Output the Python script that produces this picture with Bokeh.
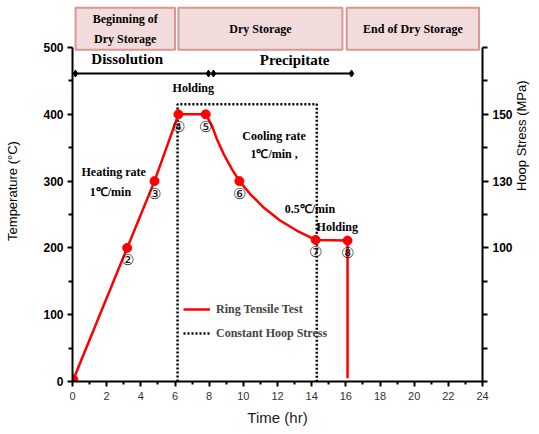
import math
from bokeh.plotting import figure
from bokeh.models import (LinearAxis, FixedTicker, Range1d, Legend, LegendItem,
                          LabelSet, ColumnDataSource)
from bokeh.core.properties import value
from bokeh.embed import file_html
from bokeh.resources import INLINE

# Ring tensile test temperature profile (time in hr, temperature in degC)
ring_time = [0.05, 3.2, 4.8, 6.2, 7.8, 8.16, 8.45, 8.84, 9.33, 9.77, 10.39, 11.17, 12.15, 13.12, 14.23, 16.1, 16.1]
ring_temp = [3, 200, 300, 400, 400, 383, 363, 341, 318, 300, 281, 261, 241, 226, 212, 211, 5]

# Numbered test points
point_time = [0.05, 3.2, 4.8, 6.2, 7.8, 9.77, 14.23, 16.1]
point_temp = [3, 200, 300, 400, 400, 300, 212, 211]
point_labels = ["①", "②", "③", "④", "⑤", "⑥", "⑦", "⑧"]

# Constant hoop stress profile
hoop_time = [6.15, 6.15, 14.3, 14.3]
hoop_temp = [0, 415, 415, 0]

# Right axis: temperature positions -> hoop stress labels (MPa)
hoop_tick_temp = [200, 300, 400]
hoop_tick_labels = ["100", "130", "150"]

# Storage phases (boxes above the plot)
phase_names = ["Beginning of\nDry Storage", "Dry Storage", "End of Dry Storage"]
phase_start = [0.18, 6.2, 16.05]
phase_end = [6.0, 15.8, 23.8]

# Stage arrows
stage_names = ["Dissolution", "Precipitate"]
stage_start = [0.17, 8.25]
stage_end = [7.96, 16.33]
stage_label_x = [3.2, 13.0]

# Annotations
annot_text = ["Holding", "Heating rate", "1℃/min", "Cooling rate", "1℃/min ,", "0.5℃/min", "Holding"]
annot_x = [7.07, 2.41, 2.22, 11.8, 11.8, 13.9, 15.5]
annot_y = [440, 313, 284, 368, 340, 259, 231]

SERIF = value("Liberation Serif")

p = figure(width=539, height=428, x_range=Range1d(0, 24), y_range=Range1d(0, 570.4),
           output_backend="svg", toolbar_location=None,
           min_border_left=72, min_border_right=56, min_border_top=0, min_border_bottom=47)
p.outline_line_color = None
p.grid.visible = False
p.background_fill_color = "white"

# Phase boxes
p.quad(left=phase_start, right=phase_end, bottom=496.5, top=559.5,
       fill_color="#f2dcdb", line_color="#d99694", line_width=2)
p.text(x=[(a + b) / 2 for a, b in zip(phase_start, phase_end)], y=[528] * 3, text=phase_names,
       text_align="center", text_baseline="middle", text_font=SERIF, text_font_style="bold",
       text_font_size="12px", text_line_height=1.45, text_color="black")

# Stage arrows
stage_y = [461] * len(stage_names)
p.segment(x0=stage_start, y0=stage_y, x1=stage_end, y1=stage_y, line_color="black", line_width=2)
p.scatter(x=stage_start + stage_end, y=stage_y * 2, marker="diamond", size=7, color="black")
p.text(x=stage_label_x, y=[483, 481], text=stage_names, text_align="center", text_baseline="middle",
       text_font=SERIF, text_font_style="bold", text_font_size="15px", text_color="black")

# Data lines
r_hoop = p.line(hoop_time, hoop_temp, line_color="black", line_width=2.5, line_dash="2 2")
r_ring = p.line(ring_time, ring_temp, line_color="#ff0000", line_width=2.5, line_join="round")
p.scatter(point_time, point_temp, size=9, color="#ff0000")

# Annotations
p.text(x=annot_x, y=annot_y, text=annot_text, text_align="center", text_baseline="middle",
       text_font=SERIF, text_font_style="bold", text_font_size="12px", text_color="black")

src = ColumnDataSource(dict(t=point_time, T=point_temp, lab=point_labels))
p.add_layout(LabelSet(x="t", y="T", text="lab", source=src, y_offset=-12,
                      text_align="center", text_baseline="middle",
                      text_font_size="15px", text_color="#111111"))

# Left axis
la = p.yaxis[0]
la.bounds = (0, 500)
la.ticker = FixedTicker(ticks=[0, 100, 200, 300, 400, 500], minor_ticks=[50, 150, 250, 350, 450])
la.axis_label = "Temperature (°C)"
la.axis_label_text_font = "Liberation Sans"
la.axis_label_text_font_style = "normal"
la.axis_label_text_font_size = "13px"
la.axis_label_text_color = "black"
la.axis_label_standoff = 20
la.major_label_text_font = "Liberation Sans"
la.major_label_text_font_style = "bold"
la.major_label_text_font_size = "12px"
la.major_label_text_color = "black"
la.major_label_standoff = 4
la.axis_line_width = 2
la.major_tick_in = 0
la.major_tick_out = 5
la.minor_tick_in = 0
la.minor_tick_out = 4
la.major_tick_line_width = 2
la.minor_tick_line_width = 2

# Bottom axis
ba = p.xaxis[0]
ba.ticker = FixedTicker(ticks=list(range(0, 25, 2)), minor_ticks=list(range(1, 24, 2)))
ba.axis_label = "Time (hr)"
ba.axis_label_text_font = "Liberation Sans"
ba.axis_label_text_font_style = "normal"
ba.axis_label_text_font_size = "15px"
ba.axis_label_text_color = "#222222"
ba.axis_label_standoff = 6
ba.major_label_text_font = "Liberation Sans"
ba.major_label_text_font_size = "11px"
ba.major_label_text_color = "#333333"
ba.major_label_standoff = 5
ba.axis_line_width = 2
ba.major_tick_in = 0
ba.major_tick_out = 5
ba.minor_tick_in = 0
ba.minor_tick_out = 3
ba.major_tick_line_width = 2
ba.minor_tick_line_width = 2

# Right axis (hoop stress)
ra = LinearAxis(bounds=(0, 500),
                ticker=FixedTicker(ticks=hoop_tick_temp, minor_ticks=[0, 50, 100, 150, 250, 350, 450, 500]),
                major_label_overrides={t: l for t, l in zip(hoop_tick_temp, hoop_tick_labels)})
ra.axis_line_width = 2
ra.major_tick_in = 0
ra.major_tick_out = 6
ra.minor_tick_in = 0
ra.minor_tick_out = 5
ra.major_tick_line_width = 2
ra.minor_tick_line_width = 2
ra.major_label_text_font = "Liberation Sans"
ra.major_label_text_font_style = "bold"
ra.major_label_text_font_size = "12px"
ra.major_label_text_color = "black"
ra.major_label_standoff = 4
ra.axis_label = "Hoop Stress (MPa)"
ra.axis_label_text_font = "Liberation Sans"
ra.axis_label_text_font_style = "normal"
ra.axis_label_text_font_size = "13px"
ra.axis_label_text_color = "black"
ra.axis_label_standoff = 6
ra.axis_label_orientation = math.pi / 2
ra.axis_label_text_align = "center"
ra.axis_label_text_baseline = "middle"
p.add_layout(ra, "right")

legend = Legend(items=[LegendItem(label="Ring Tensile Test", renderers=[r_ring]),
                       LegendItem(label="Constant Hoop Stress", renderers=[r_hoop])],
                location=(111, 38), background_fill_alpha=0, border_line_alpha=0,
                padding=0, margin=0, spacing=4, glyph_width=27, glyph_height=20,
                label_height=20, label_standoff=6,
                label_text_font="Liberation Serif", label_text_font_style="bold",
                label_text_font_size="12px")
p.add_layout(legend)

open("out.html", "w").write(file_html(p, INLINE))
